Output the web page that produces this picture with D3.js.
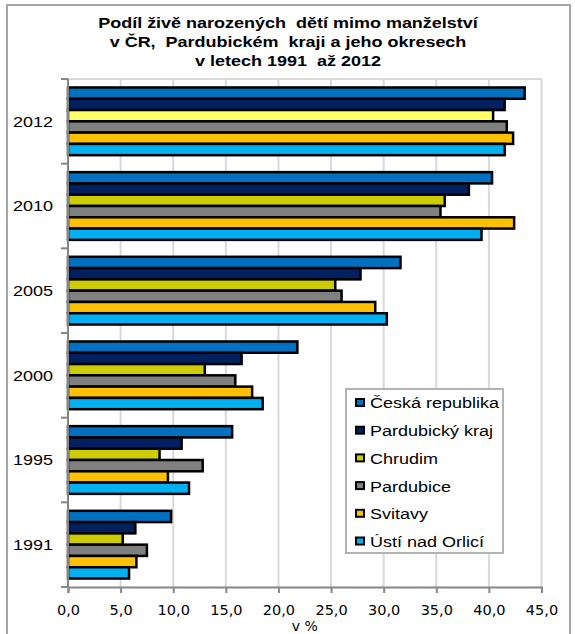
<!DOCTYPE html>
<meta charset="utf-8">
<script src="https://d3js.org/d3.v7.min.js"></script>
<style>
  body { margin: 0; background: #fff; }
  text { font-family: "Liberation Sans", Arial, sans-serif; fill: #000; }
</style>
<div id="chart"></div>
<script>
// data (percent)
const years = ["2012", "2010", "2005", "2000", "1995", "1991"];
const seriesNames = ["Česká republika", "Pardubický kraj", "Chrudim", "Pardubice", "Svitavy", "Ústí nad Orlicí"];
const ceskaRepublika = [43.4, 40.3, 31.6, 21.8, 15.6, 9.8];
const pardubickyKraj = [41.5, 38.1, 27.8, 16.5, 10.8, 6.4];
const chrudim        = [40.4, 35.8, 25.4, 13.0, 8.7, 5.2];
const pardubice      = [41.7, 35.4, 26.0, 15.9, 12.8, 7.5];
const svitavy        = [42.3, 42.4, 29.2, 17.5, 9.5, 6.5];
const ustiNadOrlici  = [41.5, 39.3, 30.3, 18.5, 11.5, 5.8];
const xTicks = [0, 5, 10, 15, 20, 25, 30, 35, 40, 45];
const titleLines = ["Podíl živě narozených  dětí mimo manželství", "v ČR,  Pardubickém  kraji a jeho okresech", "v letech 1991  až 2012"];

const allSeries = [ceskaRepublika, pardubickyKraj, chrudim, pardubice, svitavy, ustiNadOrlici];
const colors = ["#0070C0", "#002060", "#CCCC00", "#808080", "#FFC000", "#00B0F0"];
const sx = 1.2; // original picture is stretched horizontally

const W = 575, H = 634;
const margin = {top: 79, right: 33, bottom: 47, left: 68};

const svg = d3.select("#chart").append("svg")
    .attr("width", W)
    .attr("height", H);

// outer frame
svg.append("rect")
    .attr("x", 7).attr("y", 5)
    .attr("width", 563).attr("height", 650)
    .attr("fill", "none")
    .attr("stroke", "#a6a6a6")
    .attr("stroke-width", 2);

// title
svg.append("g").selectAll("text")
    .data(titleLines)
    .join("text")
    .attr("transform", (d, i) => `translate(288,${28 + i * 19}) scale(${sx},1)`)
    .attr("text-anchor", "middle")
    .style("font-size", "15px")
    .style("font-weight", "bold")
    .style("white-space", "pre")
    .text(d => d);

const x = d3.scaleLinear()
    .domain([0, 45])
    .range([margin.left, W - margin.right - 0.5]);

const y = d3.scaleBand()
    .domain(years)
    .range([margin.top, H - margin.bottom])
    .paddingInner(0.2)
    .paddingOuter(0.1);

const ySub = d3.scaleBand()
    .domain(d3.range(seriesNames.length))
    .range([0, y.bandwidth()]);

// gridlines
svg.append("g").selectAll("line")
    .data(xTicks.slice(1))
    .join("line")
    .attr("x1", d => x(d)).attr("x2", d => x(d))
    .attr("y1", margin.top).attr("y2", H - margin.bottom)
    .attr("stroke", "#d9d9d9")
    .attr("stroke-width", 2);
svg.append("line")
    .attr("x1", margin.left).attr("x2", x(45))
    .attr("y1", margin.top).attr("y2", margin.top)
    .attr("stroke", "#d9d9d9")
    .attr("stroke-width", 2);

// bars
const rows = [];
years.forEach((yr, i) => {
    allSeries.forEach((s, j) => {
        rows.push({year: yr, s: j, value: s[i]});
    });
});

svg.append("g").selectAll("rect")
    .data(rows)
    .join("rect")
    .attr("x", x(0))
    .attr("y", d => y(d.year) + ySub(d.s))
    .attr("width", d => x(d.value) - x(0))
    .attr("height", ySub.bandwidth())
    .attr("fill", d => (d.year === "2012" && d.s === 2) ? "#FFFF66" : colors[d.s])
    .attr("stroke", "#000")
    .attr("stroke-width", 2.5);

// x axis
const xAxis = svg.append("g")
    .attr("transform", `translate(0,${H - margin.bottom})`)
    .call(d3.axisBottom(x)
        .tickValues(xTicks)
        .tickSize(6)
        .tickPadding(12)
        .tickFormat(d => d3.format(".1f")(d).replace(".", ",")));
xAxis.select(".domain").attr("stroke", "#868686").attr("stroke-width", 2);
xAxis.selectAll(".tick line").attr("stroke", "#868686").attr("stroke-width", 2);
xAxis.selectAll(".tick text")
    .style("font-family", "'DejaVu Sans', sans-serif")
    .style("font-size", "14.5px")
    .attr("fill", "#000");

svg.append("text")
    .attr("x", (x(0) + x(45)) / 2)
    .attr("y", 631)
    .attr("text-anchor", "middle")
    .style("font-family", "'DejaVu Sans', sans-serif")
    .style("font-size", "14px")
    .text("v %");

// y axis (ticks between categories)
const yAxis = svg.append("g");
yAxis.append("line")
    .attr("x1", margin.left).attr("x2", margin.left)
    .attr("y1", margin.top).attr("y2", H - margin.bottom)
    .attr("stroke", "#868686").attr("stroke-width", 2);
const bounds = d3.range(years.length + 1).map(i => margin.top + i * y.step());
yAxis.selectAll(".tk")
    .data(bounds)
    .join("line")
    .attr("x1", margin.left - 7).attr("x2", margin.left)
    .attr("y1", d => d).attr("y2", d => d)
    .attr("stroke", "#868686").attr("stroke-width", 2);
yAxis.selectAll("text")
    .data(years)
    .join("text")
    .attr("transform", d => `translate(33,${y(d) + y.bandwidth() / 2}) scale(${sx},1)`)
    .attr("dy", "0.36em")
    .attr("text-anchor", "middle")
    .style("font-size", "15px")
    .text(d => d);

// legend
const legend = svg.append("g").attr("transform", "translate(346,389)");
legend.append("rect")
    .attr("width", 157).attr("height", 164)
    .attr("fill", "#fff")
    .attr("stroke", "#b3b3b3")
    .attr("stroke-width", 2);
const item = legend.selectAll(".item")
    .data(seriesNames)
    .join("g")
    .attr("transform", (d, i) => `translate(0,${14 + i * 27.7})`);
item.append("rect")
    .attr("x", 10).attr("y", -4)
    .attr("width", 8).attr("height", 7)
    .attr("fill", (d, i) => colors[i])
    .attr("stroke", "#000")
    .attr("stroke-width", 2);
item.append("text")
    .attr("transform", `translate(24,0) scale(${sx},1)`)
    .attr("dy", "0.36em")
    .style("font-size", "15px")
    .text(d => d);
</script>
